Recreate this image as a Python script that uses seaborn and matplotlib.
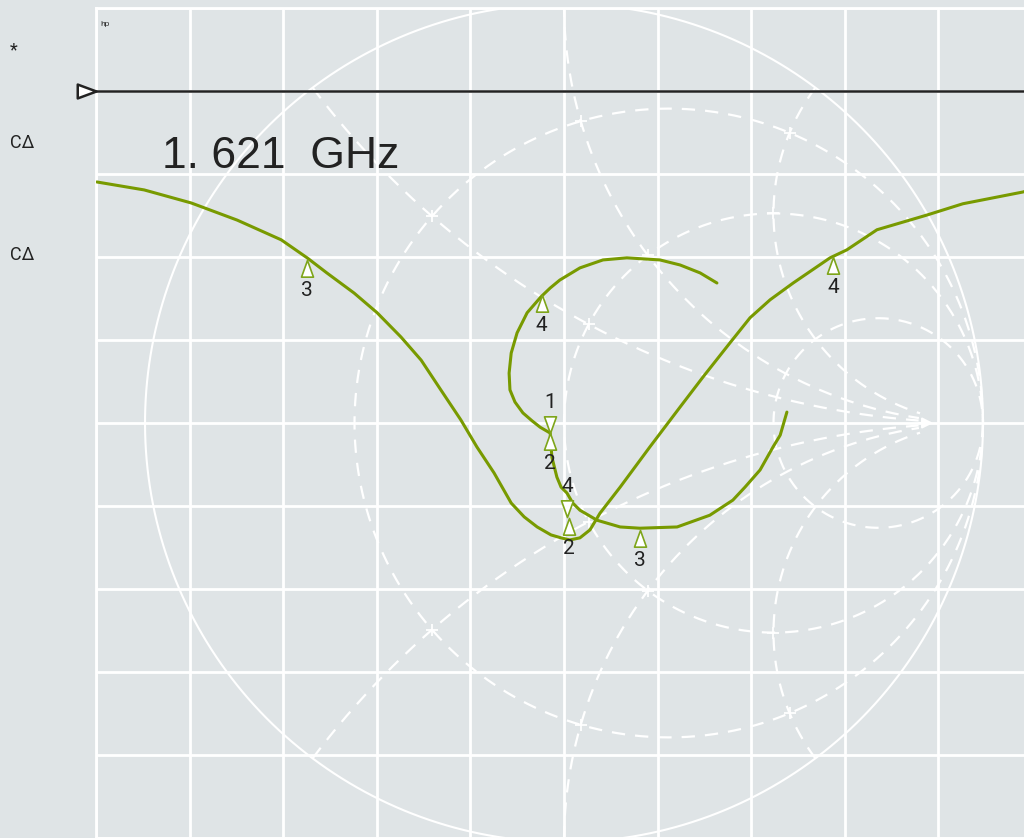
import numpy as np
import matplotlib
matplotlib.use("Agg")
import matplotlib.pyplot as plt
from matplotlib.path import Path
import seaborn as sns

trace_a_re = [-1.115, -1.002, -0.890, -0.780, -0.675, -0.613, -0.566, -0.501, -0.446,
              -0.389, -0.341, -0.294, -0.246, -0.208, -0.167, -0.126, -0.095, -0.064,
              -0.031, -0.007, 0.014, 0.038, 0.062, 0.086, 0.134, 0.205, 0.277, 0.332,
              0.396, 0.444, 0.492, 0.547, 0.635, 0.675, 0.747, 0.866, 0.952, 1.095, 1.112]
trace_a_im = [0.575, 0.556, 0.525, 0.484, 0.437, 0.394, 0.358, 0.310, 0.263,
              0.205, 0.150, 0.079, 0.007, -0.057, -0.119, -0.191, -0.224, -0.248,
              -0.267, -0.274, -0.279, -0.274, -0.255, -0.215, -0.153, -0.057, 0.038, 0.110,
              0.191, 0.251, 0.294, 0.334, 0.394, 0.413, 0.461, 0.496, 0.523, 0.551, 0.556]

# trace B
trace_b_re = [0.365, 0.325, 0.277, 0.229, 0.150, 0.093, 0.038, -0.010, -0.033, -0.055,
              -0.088, -0.112, -0.126, -0.131, -0.129, -0.117, -0.098, -0.076, -0.057,
              -0.033, -0.031, -0.029, -0.017, -0.007, 0.007, 0.021, 0.038, 0.079, 0.134,
              0.181, 0.270, 0.348, 0.403, 0.432, 0.468, 0.499, 0.516, 0.532]
trace_b_im = [0.334, 0.358, 0.377, 0.389, 0.394, 0.389, 0.370, 0.341, 0.322, 0.301,
              0.263, 0.215, 0.167, 0.119, 0.079, 0.050, 0.024, 0.005, -0.010,
              -0.024, -0.053, -0.081, -0.129, -0.153, -0.167, -0.191, -0.208, -0.232, -0.248,
              -0.251, -0.248, -0.220, -0.184, -0.153, -0.112, -0.057, -0.029, 0.026]

# markers
mk_re = [-0.613, -0.053, -0.033, -0.033, 0.007, 0.012, 0.181, 0.642]
mk_im = [0.389, 0.305, -0.024, -0.024, -0.224, -0.227, -0.255, 0.396]
mk_lbl = ["3", "4", "1", "2", "4", "2", "3", "4"]
mk_dir = ["up", "up", "down", "up", "down", "up", "up", "up"]

# smith chart overlay
r_circles = [1 / 3, 1, 3]
x_arcs = [0.5, 1, 2, -0.5, -1, -2]

ref_level = 0.792
freq_text = "1. 621  GHz"
side_labels = ["*", "CΔ", "CΔ"]

bg = "#dfe4e6"
green = "#789a00"
x_lim = (-1.117, 1.117)
y_lim = (-0.990, 0.990)
n_div = 10

sns.set_theme(style="whitegrid", rc={"axes.facecolor": bg, "figure.facecolor": bg,
                                     "grid.color": "white", "grid.linewidth": 2.0,
                                     "axes.edgecolor": "white"})
plt.rcParams["font.family"] = ["Roboto", "DejaVu Sans"]

fig = plt.figure(figsize=(10.24, 8.38), dpi=100)
ax = fig.add_axes([96 / 1024, 0.0, 936 / 1024, 830 / 838])
ax.set_xlim(*x_lim)
ax.set_ylim(*y_lim)
ax.set_xticks(np.linspace(x_lim[0], x_lim[1], n_div + 1))
ax.set_yticks(np.linspace(y_lim[0], y_lim[1], n_div + 1))
ax.tick_params(length=0, labelbottom=False, labelleft=False)
for s in ax.spines.values():
    s.set_color("white")
    s.set_linewidth(2.0)


def gamma(z):
    return (z - 1) / (z + 1)


dash = (0, (6, 4.5))
# outer circle
th = np.linspace(0, 2 * np.pi, 600)
ax.plot(np.cos(th), np.sin(th), color="white", lw=1.5, zorder=2)
# constant resistance circles
t = np.linspace(-np.pi / 2 + 1e-3, np.pi / 2 - 1e-3, 900)
for r in r_circles:
    g = gamma(r + 1j * np.tan(t))
    ax.plot(g.real, g.imag, color="white", lw=1.6, ls=dash, zorder=2)
# constant reactance arcs
rr = np.tan(np.linspace(0, np.arctan(12), 600))
for xv in x_arcs:
    g = gamma(rr + 1j * xv)
    ax.plot(g.real, g.imag, color="white", lw=1.6, ls=dash, zorder=2)
# small crosses at the intersections
for r in r_circles[:2]:
    for xv in x_arcs:
        g = gamma(r + 1j * xv)
        ax.plot(g.real, g.imag, marker="+", ms=9, mew=1.3, color="white", zorder=2)
ax.annotate("", xy=(0.888, 0), xytext=(0.84, 0),
            arrowprops=dict(arrowstyle="-|>", color="white", lw=1.5, mutation_scale=16))

# reference line and its pointer
ax.axhline(ref_level, color="#222222", lw=1.8, zorder=3)
ref_mark = Path([(0, 0), (-1, 0.37), (-1, -0.37), (0, 0)], closed=True)
ax.plot([x_lim[0]], [ref_level], marker=ref_mark, ms=27, mfc="white", mec="#222222",
        mew=1.8, clip_on=False, zorder=5)

# traces
sns.lineplot(x=trace_a_re, y=trace_a_im, sort=False, estimator=None, color=green,
             lw=2.2, ax=ax, zorder=4)
sns.lineplot(x=trace_b_re, y=trace_b_im, sort=False, estimator=None, color=green,
             lw=2.2, ax=ax, zorder=4)

up_mark = Path([(0, 0), (-0.36, -1), (0.36, -1), (0, 0)], closed=True)
down_mark = Path([(0, 0), (-0.36, 1), (0.36, 1), (0, 0)], closed=True)
for x, y, lbl, d in zip(mk_re, mk_im, mk_lbl, mk_dir):
    m = up_mark if d == "up" else down_mark
    ax.plot([x], [y], marker=m, ms=24, mfc="white", mec="#7ea51a", mew=1.2, zorder=6)
    off = -22 if d == "up" else 22
    ax.annotate(lbl, (x, y), xytext=(0, off), textcoords="offset points",
                ha="center", va="center", fontsize=15, color="#222222", zorder=7)

# screen annotations
fig.text(162 / 1024, 1 - 168 / 838, freq_text, fontsize=32, family="Liberation Sans",
         color="#222222", va="baseline", ha="left")
fig.text(100 / 1024, 1 - 24 / 838, "hp", fontsize=6, color="#333333", va="center")
for lbl, ypx in zip(side_labels, [50, 143, 255]):
    fig.text(10 / 1024, 1 - ypx / 838, lbl, fontsize=13, color="#222222",
             va="center", ha="left")

fig.savefig("out.png", dpi=100, facecolor=bg)
